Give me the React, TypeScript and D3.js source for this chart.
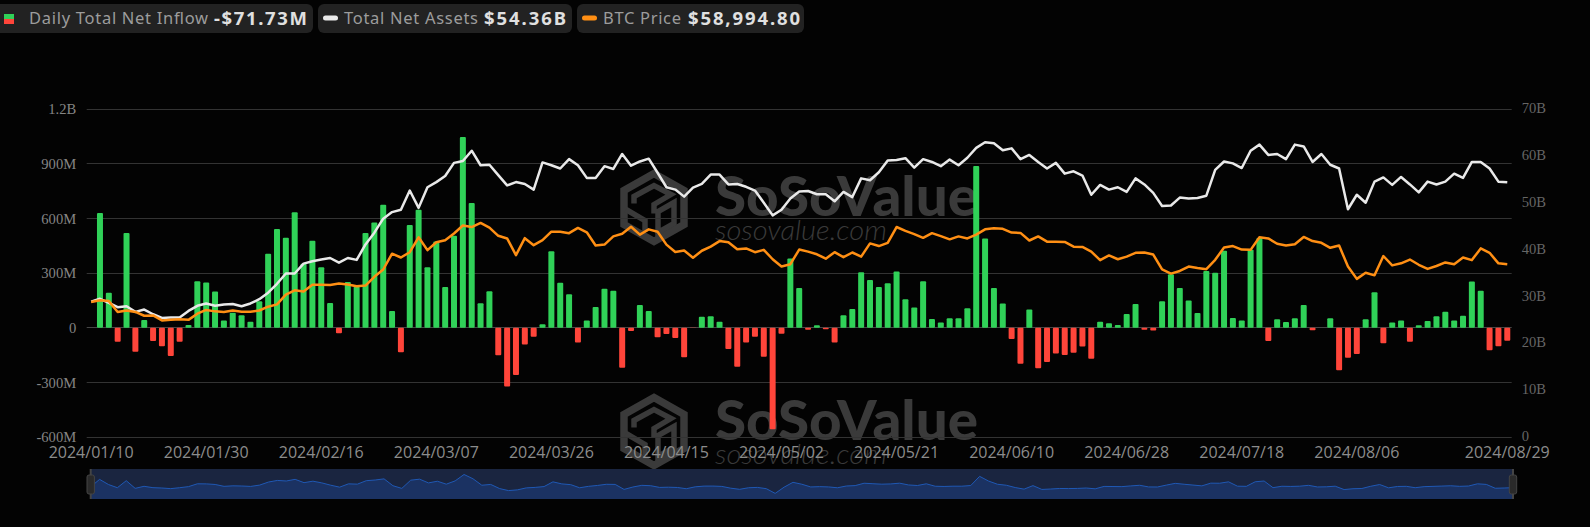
// App.tsx - daily net inflow / net assets / BTC price chart
import React, { useEffect, useRef } from 'react';
import * as d3 from 'd3';

const WIDTH = 1590;
const HEIGHT = 527;
const MARGIN = { top: 109, right: 78.3, bottom: 90, left: 86.7 };

// x axis labels, and which category each one belongs to
const tickDates = ['2024/01/10', '2024/01/30', '2024/02/16', '2024/03/07', '2024/03/26', '2024/04/15', '2024/05/02', '2024/05/21', '2024/06/10', '2024/06/28', '2024/07/18', '2024/08/06', '2024/08/29'];
const tickIndexes = [0, 13, 26, 39, 52, 65, 78, 91, 104, 117, 130, 143, 160];

const leftTicks = [-600, -300, 0, 300, 600, 900, 1200];
const rightTicks = [0, 10, 20, 30, 40, 50, 60, 70];

// daily total net inflow, $M (the first day has no bar)
const inflow: (number | null)[] = [
  null, 629, 192, -77, 519, -132, 42, -73, -102, -155,
  -77, 15, 255, 248, 198, 39, 82, 68, 33, 145,
  405, 541, 493, 633, 351, 477, 331, 136, -31, 251,
  225, 519, 577, 674, 91, -135, 563, 647, 331, 473,
  223, 504, 1046, 684, 134, 200, -152, -323, -260, -92,
  -50, 19, 420, 246, 183, -82, 40, 114, 214, 203,
  -220, -18, 125, 91, -52, -35, -57, -163, -2, 60,
  62, 33, -117, -214, -81, -50, -160, -558, -33, 380,
  218, -12, 13, -9, -82, 68, 102, 304, 261, 223,
  244, 308, 156, 110, 255, 48, 29, 51, 51, 107,
  887, 490, 218, 132, -62, -198, 100, -223, -189, -142,
  -150, -137, -104, -171, 33, 24, 15, 75, 130, -11,
  -16, 145, 293, 218, 149, 80, 311, 302, 422, 53,
  39, 427, 492, -73, 46, 31, 51, 125, -14, 0,
  51, -234, -165, -144, 46, 194, -86, 28, 40, -77,
  13, 37, 62, 88, 40, 66, 253, 203, -124, -102,
  -71.73,
];

// total net assets, $B
const netAssets = [
  28.9, 29.5, 28.6, 27.7, 27.9, 26.7, 27.2, 26.2, 25.4, 25.5,
  25.5, 26.9, 28.0, 28.5, 28.0, 28.3, 28.4, 27.9, 28.5, 29.4,
  30.8, 32.7, 34.9, 34.9, 37.0, 37.5, 37.9, 38.2, 37.2, 38.2,
  37.8, 41.1, 43.6, 46.6, 48.0, 48.5, 52.6, 48.9, 53.3, 54.4,
  55.7, 58.5, 58.9, 61.1, 58.0, 58.1, 55.9, 53.7, 54.4, 54.0,
  52.8, 58.6, 58.0, 57.3, 59.3, 58.0, 55.3, 55.3, 57.8, 57.2,
  60.4, 57.9, 58.8, 59.4, 56.4, 53.3, 52.8, 51.3, 53.2, 54.0,
  56.0, 56.0, 53.9, 54.0, 53.4, 52.6, 50.0, 47.3, 48.5, 50.9,
  52.4, 52.5, 51.8, 51.8, 50.3, 52.3, 51.2, 55.2, 54.8, 56.5,
  59.0, 59.1, 59.5, 57.5, 59.3, 58.7, 57.8, 59.2, 58.0, 59.6,
  61.7, 62.9, 62.7, 61.2, 61.6, 59.3, 60.2, 58.7, 57.3, 58.5,
  56.2, 56.7, 55.8, 51.7, 53.8, 52.8, 53.3, 52.3, 55.2, 53.9,
  52.1, 49.3, 49.4, 51.1, 50.9, 51.0, 51.5, 57.0, 58.8, 58.4,
  57.4, 61.1, 62.4, 60.2, 60.4, 59.3, 62.4, 62.0, 58.7, 60.4,
  58.1, 57.3, 48.6, 51.7, 50.0, 54.5, 55.4, 53.8, 55.5, 53.9,
  52.2, 54.5, 53.9, 54.5, 56.2, 55.3, 58.7, 58.7, 57.3, 54.5,
  54.36,
];

// BTC price, $K
const btcPrice = [
  46.1, 46.7, 46.4, 42.7, 43.2, 42.7, 41.4, 41.5, 39.8, 40.0,
  40.2, 40.0, 42.1, 43.4, 42.9, 42.7, 43.2, 42.8, 42.8, 43.2,
  44.5, 45.3, 48.6, 50.1, 49.7, 52.0, 52.0, 51.9, 52.4, 52.1,
  51.5, 51.7, 54.7, 57.2, 62.6, 61.3, 63.1, 68.2, 63.8, 66.5,
  67.2, 69.5, 72.2, 71.7, 73.1, 71.5, 68.7, 67.8, 62.1, 67.9,
  65.5, 67.2, 70.1, 70.1, 69.6, 71.4, 69.9, 65.4, 65.7, 68.5,
  69.4, 71.8, 69.1, 70.9, 70.1, 65.7, 63.2, 63.7, 61.2, 63.6,
  65.0, 66.9, 66.5, 64.1, 64.4, 63.1, 63.9, 60.7, 58.2, 59.0,
  64.0, 63.3, 62.4, 60.9, 63.1, 61.4, 63.0, 61.6, 66.1, 65.2,
  66.3, 71.7, 70.4, 69.3, 68.0, 69.6, 68.6, 67.5, 68.5, 67.8,
  69.1, 70.9, 71.3, 71.1, 69.8, 69.7, 67.1, 68.5, 66.7, 66.7,
  66.6, 65.0, 64.9, 63.3, 60.4, 62.0, 60.7, 61.6, 62.9, 63.0,
  62.3, 57.2, 55.8, 56.7, 58.2, 57.7, 57.3, 60.5, 64.7, 65.2,
  64.0, 63.9, 68.2, 67.8, 66.0, 65.4, 65.8, 68.3, 66.9, 66.3,
  64.6, 65.4, 58.2, 54.0, 56.1, 55.2, 61.8, 58.6, 59.3, 60.6,
  58.8, 57.4, 58.4, 59.6, 59.0, 61.3, 60.4, 64.4, 62.9, 59.3,
  58.99,
];

const legendItems = [
  { label: 'Daily Total Net Inflow', value: '-$71.73M' },
  { label: 'Total Net Assets', value: '$54.36B' },
  { label: 'BTC Price', value: '$58,994.80' },
];

const GREEN = '#30d158';
const RED = '#ff453a';
const WHITE = '#e9e9e9';
const ORANGE = '#ff8f14';

const App: React.FC = () => {
  const svgRef = useRef<SVGSVGElement>(null);

  useEffect(() => {
    if (!svgRef.current) return;
    const svg = d3.select(svgRef.current);
    svg.selectAll('*').remove();

    const bottom = HEIGHT - MARGIN.bottom;
    const right = WIDTH - MARGIN.right;
    const indexes = d3.range(inflow.length);

    const x = d3.scaleBand<number>().domain(indexes).range([MARGIN.left, right]);
    const xMid = (i: number) => x(i)! + x.bandwidth() / 2;
    const yFlow = d3.scaleLinear().domain([-600, 1200]).range([bottom, MARGIN.top]);
    const yAssets = d3.scaleLinear().domain([0, 70]).range([bottom, MARGIN.top]);
    const yBtc = d3.scaleLinear().domain([0, 112]).range([bottom, MARGIN.top]);

    svg.append('rect').attr('width', WIDTH).attr('height', HEIGHT).attr('fill', '#030303');

    // watermarks sit under everything else
    [0, 224].forEach(dy => {
      const wm = svg.append('g').attr('transform', `translate(0,${dy})`);
      const logo = wm.append('g').attr('transform', 'translate(654,207.5)')
        .attr('fill', 'none').attr('stroke', '#3a3a3a').attr('stroke-width', 7.5);
      logo.append('path').attr('d', 'M0,-34 L30,-17 L30,17 L0,34 L-30,17 L-30,-17 Z');
      logo.append('path').attr('stroke-width', 5.5)
        .attr('d', 'M-20,-4 L-20,-11 L0,-22 L17,-13 L0,-3 L0,6 M-28,2 L-9,13 L-9,24 M20,-5 L4,4 L4,25 L20,16 Z');
      wm.append('text').attr('x', 715).attr('y', 216)
        .attr('font-family', 'Lato').attr('font-weight', 900).attr('font-size', 56)
        .attr('textLength', 263).attr('lengthAdjust', 'spacingAndGlyphs')
        .attr('fill', '#3a3a3a').text('SoSoValue');
      wm.append('text').attr('x', 715).attr('y', 240)
        .attr('font-family', 'Lato').attr('font-style', 'italic').attr('font-weight', 300).attr('font-size', 27)
        .attr('textLength', 172).attr('lengthAdjust', 'spacingAndGlyphs')
        .attr('fill', '#3a3a3a').text('sosovalue.com');
    });

    // grid, snapped to whole pixel rows
    const snap = (y: number) => Math.floor(y) + 0.5;
    svg.append('g').selectAll('line').data(leftTicks).enter().append('line')
      .attr('x1', MARGIN.left).attr('x2', right)
      .attr('y1', d => snap(yFlow(d))).attr('y2', d => snap(yFlow(d)))
      .attr('stroke', d => d === 0 ? '#464646' : '#333333');

    // axes
    const styleAxis = (g: d3.Selection<SVGGElement, unknown, null, undefined>, color: string, family: string, size: number) => {
      g.select('.domain').remove();
      g.selectAll('.tick line').remove();
      g.selectAll('text').attr('fill', color).attr('font-family', family).attr('font-size', size);
    };
    const formatFlow = (d: d3.NumberValue) => {
      const v = +d;
      return Math.abs(v) >= 1000 ? `${v / 1000}B` : v === 0 ? '0' : `${v}M`;
    };

    svg.append('g').attr('transform', `translate(${MARGIN.left - 10.5},0)`)
      .call(d3.axisLeft(yFlow).tickValues(leftTicks).tickFormat(formatFlow).tickSize(0).tickPadding(0))
      .call(styleAxis, '#858585', '"Liberation Serif"', 14.6);

    svg.append('g').attr('transform', `translate(${right + 10},-1)`)
      .call(d3.axisRight(yAssets).tickValues(rightTicks).tickFormat(d => +d === 0 ? '0' : `${d}B`).tickSize(0).tickPadding(0))
      .call(styleAxis, '#666666', '"Liberation Serif"', 14.6);

    svg.append('g').attr('transform', `translate(0,${bottom + 5})`)
      .call(d3.axisBottom(x).tickValues(tickIndexes).tickFormat(d => tickDates[tickIndexes.indexOf(d)]).tickSize(0).tickPadding(5))
      .call(styleAxis, '#8c8c8c', '"Open Sans"', 16);

    // bars
    svg.append('g').selectAll('rect')
      .data(indexes.filter(i => inflow[i] !== null && inflow[i] !== 0))
      .enter().append('rect')
      .attr('x', i => xMid(i) - 3)
      .attr('width', 6)
      .attr('y', i => Math.min(yFlow(inflow[i]!), yFlow(0)))
      .attr('height', i => Math.abs(yFlow(inflow[i]!) - yFlow(0)))
      .attr('rx', 1)
      .attr('fill', i => inflow[i]! >= 0 ? GREEN : RED);

    // lines
    const drawLine = (values: number[], y: d3.ScaleLinear<number, number>, color: string) => {
      const line = d3.line<number>().x((_, i) => xMid(i)).y(d => y(d));
      svg.append('path').attr('d', line(values)).attr('fill', 'none')
        .attr('stroke', color).attr('stroke-width', 2.5).attr('stroke-linejoin', 'round');
    };
    drawLine(netAssets, yAssets, WHITE);
    drawLine(btcPrice, yBtc, ORANGE);

    // range slider with the shadow of the inflow series
    const zoomTop = 469, zoomBottom = 499, zoomLeft = 90.7, zoomRight = 1513;
    const zx = d3.scaleLinear().domain([0, inflow.length - 1]).range([zoomLeft, zoomRight]);
    const zy = d3.scaleLinear().domain([-1036, 1512]).range([zoomBottom, zoomTop]);
    svg.append('rect').attr('x', zoomLeft).attr('y', zoomTop)
      .attr('width', zoomRight - zoomLeft).attr('height', zoomBottom - zoomTop).attr('fill', '#1a2540');
    const flowValues = inflow.map(d => d ?? 0);
    svg.append('path')
      .attr('d', d3.area<number>().x((_, i) => zx(i)).y0(zoomBottom).y1(d => zy(d))(flowValues))
      .attr('fill', '#1b3262');
    svg.append('path')
      .attr('d', d3.line<number>().x((_, i) => zx(i)).y(d => zy(d))(flowValues))
      .attr('fill', 'none').attr('stroke', '#1f58b4').attr('stroke-width', 1);
    [zoomLeft, zoomRight].forEach(hx => {
      svg.append('line').attr('x1', hx).attr('x2', hx).attr('y1', zoomTop).attr('y2', zoomBottom)
        .attr('stroke', '#444444').attr('stroke-width', 2);
      svg.append('rect').attr('x', hx - 3.7).attr('y', 475).attr('width', 7.4).attr('height', 19).attr('rx', 2)
        .attr('fill', '#2a2a2a').attr('stroke', '#444444');
    });

    // legend pills along the top
    const pillLeft = [-6, 318, 577];
    const pillWidth = [319, 254, 227];
    const labelX = [29, 344, 603];
    const labelLen = [179, 134, 78];
    const valueX = [214, 484, 688];
    const valueLen = [93, 82, 112];
    legendItems.forEach((item, i) => {
      svg.append('rect').attr('x', pillLeft[i]).attr('y', 4).attr('width', pillWidth[i]).attr('height', 29)
        .attr('rx', 6).attr('fill', '#222222');
      svg.append('text').attr('x', labelX[i]).attr('y', 24).attr('font-family', '"Noto Sans"').attr('font-size', 16.5)
        .attr('textLength', labelLen[i]).attr('fill', '#9c9c9c').text(item.label);
      svg.append('text').attr('x', valueX[i]).attr('y', 24.5).attr('font-family', '"Noto Sans"').attr('font-weight', 700)
        .attr('font-size', 18.5).attr('textLength', valueLen[i]).attr('fill', '#e0e0e0').text(item.value);
    });
    svg.append('rect').attr('x', 4).attr('y', 14).attr('width', 10).attr('height', 5).attr('fill', GREEN);
    svg.append('rect').attr('x', 4).attr('y', 19).attr('width', 10).attr('height', 5).attr('fill', RED);
    svg.append('rect').attr('x', 323).attr('y', 15.5).attr('width', 15).attr('height', 5).attr('rx', 2.5).attr('fill', WHITE);
    svg.append('rect').attr('x', 582).attr('y', 15.5).attr('width', 15).attr('height', 5).attr('rx', 2.5).attr('fill', ORANGE);
  }, []);

  return (
    <svg ref={svgRef} width={WIDTH} height={HEIGHT}
      style={{ position: 'fixed', left: 0, top: 0, display: 'block' }} />
  );
};

export default App;
